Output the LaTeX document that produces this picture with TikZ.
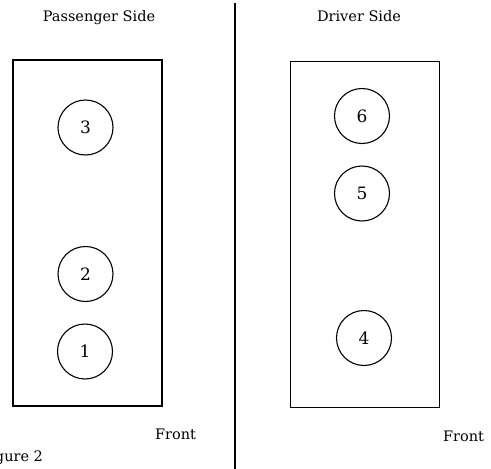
\documentclass[tikz,border=0pt]{standalone}
\usepackage{fontspec}
\setmainfont{DejaVu Serif}
\usetikzlibrary{positioning}
\begin{document}
\begin{tikzpicture}[x=1pt,y=-1pt,line width=1.1pt]
% --- Layout & Styles --------------------------------------
\tikzstyle{cyl node}=[circle,draw,minimum size=55pt,inner sep=0,font=\fontsize{17}{19}\selectfont];
\tikzstyle{bank}=[draw,minimum width=149pt,minimum height=346pt,inner sep=0];
\tikzstyle{side label}=[font=\fontsize{14.5}{17}\selectfont,inner sep=0];
\useasboundingbox (0,0) rectangle (491,469);
% --- Banks ------------------------------------------------
\node (pbank) [bank] at (87.5,233) {};
\node (dbank) [bank] at (365,234.5) {};
% --- Cylinders --------------------------------------------
\node (c3) [cyl node] at (85.5,127.5) {3};
\node (c2) [cyl node] at (85.5,274) {2};
\node (c1) [cyl node] at (85,351.5) {1};
\node (c6) [cyl node] at (362,116) {6};
\node (c5) [cyl node] at (362,193.5) {5};
\node (c4) [cyl node] at (364,338) {4};
% --- Labels -----------------------------------------------
\node (pside) [side label] at (99,17.5) {Passenger Side};
\node (dside) [side label] at (359,16) {Driver Side};
\node (pfront) [side label] at (175.5,434) {Front};
\node (dfront) [side label] at (463.5,436) {Front};
\node (fig) [side label,anchor=east] at (43.5,457.5) {Figure 2};
% --- Divider ----------------------------------------------
\coordinate (dtop) at (235,3);
\coordinate (dbot) at (235,469);
\draw (dtop) -- (dbot);
\end{tikzpicture}
\end{document}
